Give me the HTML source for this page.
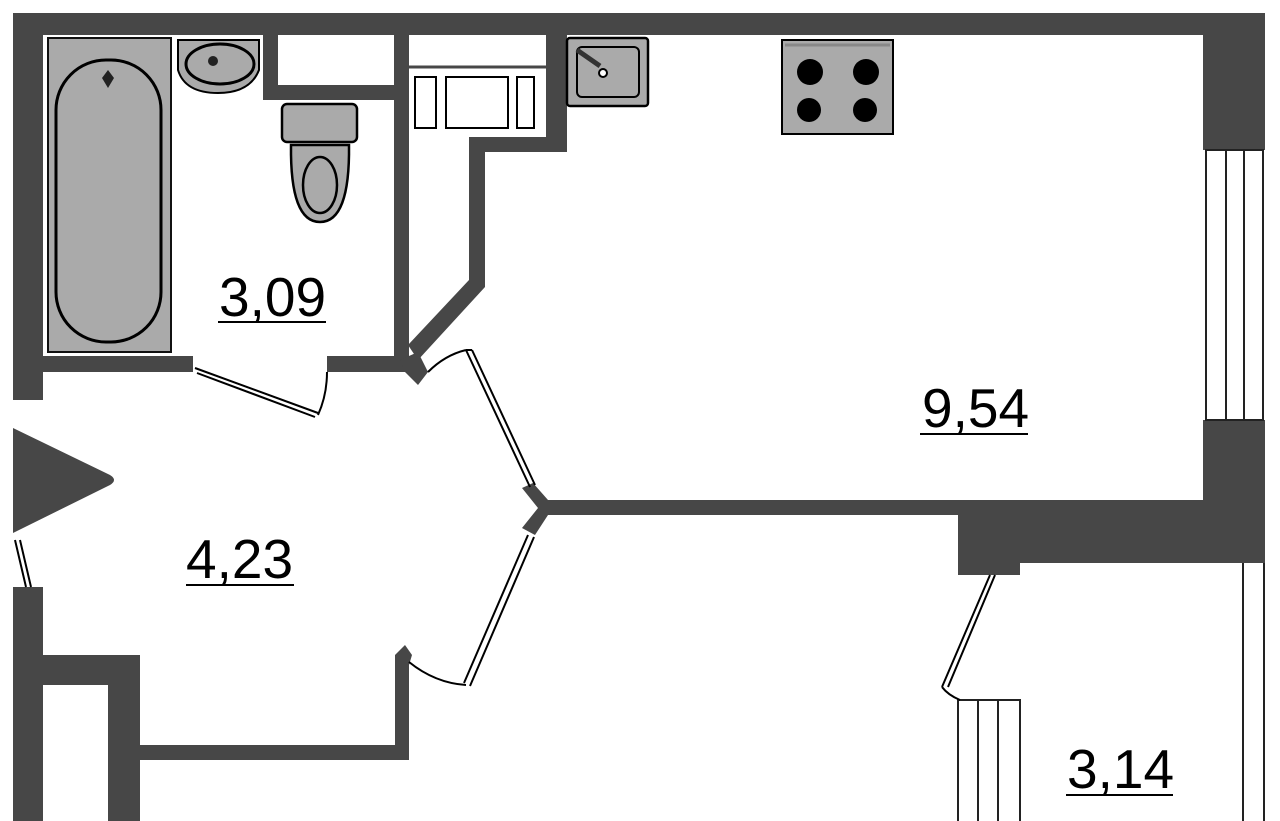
<!DOCTYPE html>
<html><head><meta charset="utf-8"><style>
html,body{margin:0;padding:0;background:#fff;width:1280px;height:821px;overflow:hidden}
svg{display:block}
text{font-family:"Liberation Sans",sans-serif;font-size:55px;fill:#000}
</style></head><body>
<svg width="1280" height="821" viewBox="0 0 1280 821">
<g fill="#474747">
<!-- top wall -->
<rect x="13" y="13" width="1252" height="22"/>
<!-- left wall upper -->
<rect x="13" y="13" width="30" height="387"/>
<!-- right wall upper -->
<rect x="1203" y="13" width="62" height="137"/>
<rect x="1203" y="420" width="62" height="143"/>
<!-- kitchen/room wall -->
<rect x="553" y="500" width="652" height="15"/>
<rect x="958" y="500" width="307" height="63"/>
<rect x="958" y="560" width="62" height="15"/>
<!-- bathroom internals -->
<rect x="263" y="35" width="15" height="65"/>
<rect x="263" y="85" width="146" height="15"/>
<rect x="394" y="35" width="15" height="333"/>
<!-- bathroom bottom wall -->
<rect x="43" y="356" width="150" height="16"/>
<rect x="327" y="356" width="82" height="16"/>
<!-- storage/kitchen wall -->
<rect x="546" y="35" width="21" height="117"/>
<rect x="469" y="137" width="98" height="15"/>
<polygon points="469,137 485,137 485,287 418,360 408,345 469,280"/>
<polygon points="400,360 418,352 428,372 418,385 405,372"/>
<!-- Y junction -->
<polygon points="522,488 533,483 548,500 556,500 556,515 548,515 535,535 522,528 538,508"/>
<!-- lower left -->
<rect x="13" y="587" width="30" height="234"/>
<rect x="43" y="655" width="97" height="30"/>
<rect x="108" y="655" width="32" height="166"/>
<rect x="140" y="745" width="269" height="15"/>
<rect x="395" y="655" width="14" height="105"/>
<polygon points="395,655 405,645 412,655 409,665 395,665"/>
<!-- entry triangle -->
<path d="M13,428 L110,475 Q118,480 110,485 L13,533 Z"/>
</g>
<!-- right windows -->
<g stroke="#222" stroke-width="2" fill="#fff">
<rect x="1206" y="150" width="57" height="270"/>
<line x1="1226" y1="150" x2="1226" y2="420"/>
<line x1="1244" y1="150" x2="1244" y2="420"/>
<line x1="1243" y1="563" x2="1243" y2="821"/>
<line x1="1264" y1="563" x2="1264" y2="821"/>
<rect x="958" y="700" width="62" height="125"/>
<line x1="978" y1="700" x2="978" y2="821"/>
<line x1="998" y1="700" x2="998" y2="821"/>
</g>
<!-- bath -->
<rect x="48" y="38" width="123" height="314" fill="#aaa" stroke="#111" stroke-width="2"/>
<rect x="56" y="60" width="105" height="282" rx="50" ry="50" fill="#aaa" stroke="#000" stroke-width="3"/>
<path d="M108,70 L114,78 L108,88 L102,78 Z" fill="#222"/>
<!-- sink bathroom -->
<path d="M178,40 H259 V70 Q250,93 218,93 Q185,93 178,70 Z" fill="#aaa" stroke="#000" stroke-width="2"/>
<ellipse cx="220" cy="64" rx="34" ry="20" fill="#aaa" stroke="#000" stroke-width="3"/>
<circle cx="213" cy="61" r="5" fill="#222"/>
<!-- toilet -->
<rect x="282" y="104" width="75" height="38" rx="5" fill="#aaa" stroke="#000" stroke-width="2.5"/>
<path d="M291,145 Q290,222 320,222 Q350,222 349,145 Z" fill="#aaa" stroke="#000" stroke-width="2.5"/>
<ellipse cx="320" cy="185" rx="17" ry="28" fill="#aaa" stroke="#000" stroke-width="2.5"/>
<!-- wardrobe -->
<g fill="#fff" stroke="#000" stroke-width="2">
<rect x="409" y="67" width="137" height="70" stroke="none"/>
<line x1="409" y1="67" x2="546" y2="67" stroke="#474747" stroke-width="3"/>
<rect x="415" y="77" width="21" height="51"/>
<rect x="446" y="77" width="62" height="51"/>
<rect x="517" y="77" width="17" height="51"/>
</g>
<!-- kitchen sink -->
<rect x="567" y="38" width="81" height="68" rx="3" fill="#aaa" stroke="#000" stroke-width="2.5"/>
<rect x="577" y="47" width="62" height="50" rx="5" fill="#aaa" stroke="#000" stroke-width="2"/>
<line x1="577" y1="50" x2="600" y2="66" stroke="#333" stroke-width="5"/>
<circle cx="603" cy="73" r="4" fill="#fff" stroke="#000" stroke-width="2"/>
<!-- stove -->
<rect x="782" y="40" width="111" height="94" fill="#aaa" stroke="#000" stroke-width="2"/>
<line x1="785" y1="45" x2="890" y2="45" stroke="#888" stroke-width="3"/>
<ellipse cx="810" cy="72" rx="13" ry="13" fill="#000"/>
<ellipse cx="866" cy="72" rx="13" ry="13" fill="#000"/>
<ellipse cx="809" cy="110" rx="12" ry="12" fill="#000"/>
<ellipse cx="865" cy="110" rx="12" ry="12" fill="#000"/>
<!-- doors -->
<g fill="none" stroke="#000" stroke-width="2">
<path d="M195,368 L318,413 M197,373 L315,417"/>
<path d="M318,415 Q327,395 327,372"/>
<path d="M466,350 L530,487 M472,350 L535,485 M466,350 L472,350"/>
<path d="M428,372 Q445,355 466,350"/>
<path d="M528,535 L464,683 M534,537 L470,686"/>
<path d="M409,662 Q435,683 466,685"/>
<path d="M990,575 L942,687 M995,575 L948,687 M942,687 Q948,695 960,700"/>
<path d="M15,540 L26,587 M20,540 L31,587"/>
</g>
<!-- labels -->
<text x="219" y="316">3,09</text><line x1="218" y1="322" x2="326" y2="322" stroke="#000" stroke-width="2"/>
<text x="922" y="427">9,54</text><line x1="920" y1="434" x2="1028" y2="434" stroke="#000" stroke-width="2"/>
<text x="186" y="578">4,23</text><line x1="186" y1="585" x2="294" y2="585" stroke="#000" stroke-width="2"/>
<text x="1067" y="788">3,14</text><line x1="1066" y1="795" x2="1173" y2="795" stroke="#000" stroke-width="2"/>
</svg>
</body></html>
